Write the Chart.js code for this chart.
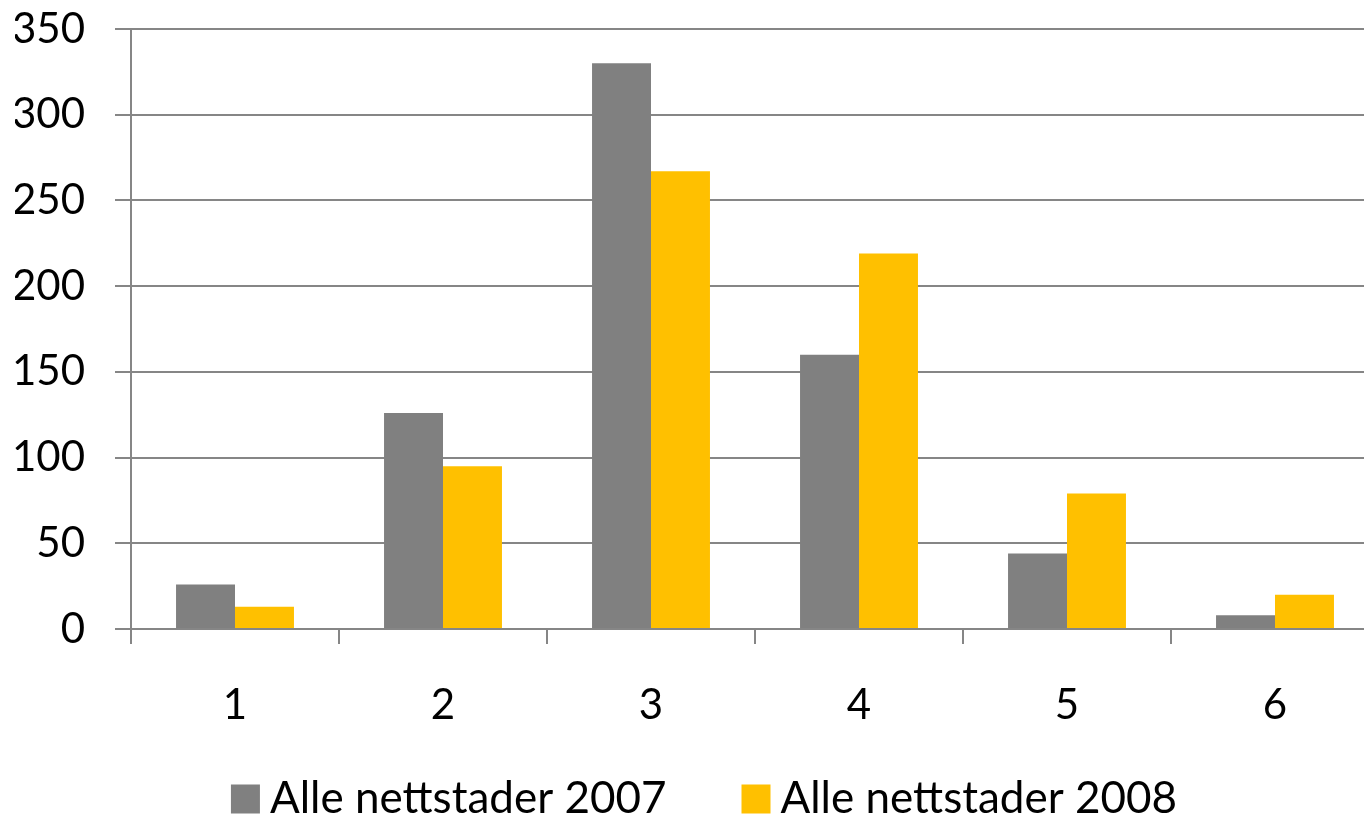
<!DOCTYPE html>
<html>
<head>
<meta charset="utf-8">
<script src="https://cdn.jsdelivr.net/npm/chart.js@4/dist/chart.umd.min.js"></script>
<style>
  html, body { margin: 0; padding: 0; background: #ffffff; overflow: hidden; }
  #wrap { position: relative; width: 1380px; height: 815px; }
</style>
</head>
<body>
<div id="wrap"><canvas id="c"></canvas></div>
<script>
const categories = ['1', '2', '3', '4', '5', '6'];
const series2007 = [26, 126, 330, 160, 44, 8];
const series2008 = [13, 95, 267, 219, 79, 20];
const seriesNames = ['Alle nettstader 2007', 'Alle nettstader 2008'];
const yMin = 0, yMax = 350, yStep = 50;

const FONT = 'Lato, "Open Sans", sans-serif';
const gridColor = '#868686';

const customLegend = {
  id: 'customLegend',
  afterDraw(chart) {
    const ctx = chart.ctx;
    ctx.save();
    ctx.font = '44px ' + FONT;
    ctx.textBaseline = 'middle';
    ctx.fillStyle = '#000';
    const box = 29, gapText = 10, gapItem = 75;
    const items = chart.data.datasets.map(d => ({ label: d.label, color: d.backgroundColor, w: ctx.measureText(d.label).width }));
    let total = 0;
    items.forEach((it, i) => { total += box + gapText + it.w + (i < items.length - 1 ? gapItem : 0); });
    let x = 704 - total / 2;
    const cy = 799;
    items.forEach(it => {
      ctx.fillStyle = it.color;
      ctx.fillRect(x, cy - box / 2, box, box);
      x += box + gapText;
      ctx.fillStyle = '#000';
      ctx.fillText(it.label, x, cy);
      x += it.w + gapItem;
    });
    ctx.restore();
  }
};

new Chart(document.getElementById('c'), {
  type: 'bar',
  data: {
    labels: categories,
    datasets: [
      { label: seriesNames[0], data: series2007, backgroundColor: '#808080', borderWidth: 0 },
      { label: seriesNames[1], data: series2008, backgroundColor: '#FFC000', borderWidth: 0 }
    ]
  },
  options: {
    responsive: true,
    maintainAspectRatio: false,
    animation: false,
    layout: { padding: { left: 15, right: 1, top: 0, bottom: 0 } },
    datasets: { bar: { categoryPercentage: 0.567, barPercentage: 1.0 } },
    plugins: { legend: { display: false }, tooltip: { enabled: false } },
    scales: {
      x: {
        grid: { offset: true, drawOnChartArea: false, drawTicks: true, tickLength: 15, color: gridColor, lineWidth: 2 },
        border: { display: true, color: gridColor, width: 2 },
        ticks: { color: '#000', font: { family: FONT, size: 42 }, padding: 36 },
        afterFit(scale) { scale.height = 186; }
      },
      y: {
        min: yMin, max: yMax,
        grid: { drawTicks: true, tickLength: 16, color: gridColor, lineWidth: 2 },
        border: { display: true, color: gridColor, width: 2 },
        ticks: { stepSize: yStep, color: '#000', font: { family: FONT, size: 42 }, padding: 30 },
        afterFit(scale) { scale.width = 116; scale.paddingTop = 29; scale.paddingBottom = 0; }
      }
    }
  },
  plugins: [customLegend]
});
</script>
</body>
</html>
